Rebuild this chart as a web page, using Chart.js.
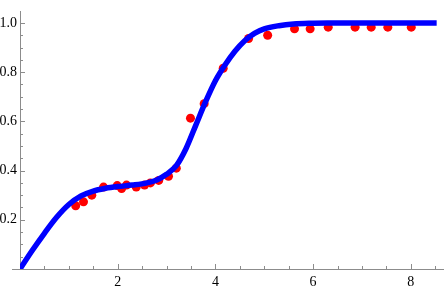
<!DOCTYPE html>
<html>
<head>
<meta charset="utf-8">
<script src="https://cdn.jsdelivr.net/npm/chart.js@4"></script>
<style>
  html, body { margin: 0; padding: 0; background: #fff; }
  #wrap { width: 448px; height: 291px; }
</style>
</head>
<body>
<div id="wrap"><canvas id="fitChart"></canvas></div>
<script>
// fitted curve
const curveX = [0, 0.25, 0.5, 0.75, 1.0, 1.25, 1.5, 1.75, 2.0, 2.3, 2.6, 2.8, 3.0, 3.2, 3.4, 3.6, 3.8, 4.0, 4.2, 4.4, 4.6, 4.8, 5.0, 5.3, 5.6, 6.0, 6.3, 8.53];
const curveY = [0, 0.075, 0.145, 0.21, 0.262, 0.297, 0.317, 0.328, 0.335, 0.341, 0.35, 0.362, 0.385, 0.42, 0.49, 0.585, 0.68, 0.765, 0.83, 0.885, 0.928, 0.958, 0.976, 0.989, 0.996, 0.999, 1.0, 1.0];

// measured points
const dataX = [1.14, 1.30, 1.47, 1.71, 1.99, 2.08, 2.18, 2.38, 2.55, 2.67, 2.84, 3.04, 3.20, 3.49, 3.77, 4.16, 4.68, 5.07, 5.62, 5.94, 6.31, 6.86, 7.19, 7.53, 8.01];
const dataY = [0.257, 0.273, 0.300, 0.333, 0.339, 0.327, 0.341, 0.333, 0.341, 0.350, 0.360, 0.377, 0.410, 0.613, 0.672, 0.816, 0.937, 0.950, 0.976, 0.976, 0.983, 0.983, 0.983, 0.983, 0.983];

const xTicks = [2, 4, 6, 8];
const yTicks = [0.2, 0.4, 0.6, 0.8, 1.0];

const axisGray = '#8c8c8c';
const serif = "'Liberation Serif', 'DejaVu Serif', serif";

// mathematica style ticks pointing into the plot
const innerTicks = {
  id: 'innerTicks',
  beforeDatasetsDraw(chart) {
    const c = chart.ctx, a = chart.chartArea;
    const xs = chart.scales.x, ys = chart.scales.y;
    c.save();
    c.strokeStyle = axisGray;
    c.lineWidth = 1;
    c.beginPath();
    for (let v = 0.5; v <= xs.max; v += 0.5) {
      const px = Math.round(xs.getPixelForValue(v)) + 0.5;
      const len = (Math.abs(v % 2) < 1e-6) ? 5 : 3;
      c.moveTo(px, a.bottom);
      c.lineTo(px, a.bottom - len);
    }
    for (let i = 1; i * 0.05 <= ys.max; i++) {
      const py = Math.round(ys.getPixelForValue(i * 0.05)) + 0.5;
      const len = (i % 4 === 0) ? 5 : 3;
      c.moveTo(a.left, py);
      c.lineTo(a.left + len, py);
    }
    // x axis sticks out a bit to the left
    c.moveTo(a.left - 8, a.bottom + 0.5);
    c.lineTo(a.left, a.bottom + 0.5);
    c.stroke();
    c.restore();
  }
};

const ctx = document.getElementById('fitChart').getContext('2d');

new Chart(ctx, {
  type: 'scatter',
  data: {
    datasets: [{
      label: 'fit',
      data: curveX.map((x, i) => ({ x: x, y: curveY[i] })),
      showLine: true,
      borderColor: 'rgb(0, 0, 255)',
      borderWidth: 5.5,
      borderCapStyle: 'butt',
      cubicInterpolationMode: 'monotone',
      pointRadius: 0,
      fill: false
    }, {
      label: 'data',
      data: dataX.map((x, i) => ({ x: x, y: dataY[i] })),
      showLine: false,
      pointRadius: 4.5,
      pointBackgroundColor: 'rgb(255, 0, 0)',
      pointBorderWidth: 0
    }]
  },
  options: {
    responsive: true,
    maintainAspectRatio: false,
    animation: false,
    layout: { padding: { top: 3, right: 1, left: 0, bottom: 0 } },
    plugins: {
      legend: { display: false },
      tooltip: { enabled: false }
    },
    scales: {
      x: {
        type: 'linear',
        min: 0,
        max: 8.67,
        afterFit: (s) => { s.height = 22; },
        afterBuildTicks: (s) => { s.ticks = xTicks.map(v => ({ value: v })); },
        grid: { display: false, drawTicks: false },
        border: { display: true, color: axisGray, width: 1 },
        ticks: {
          padding: 5,
          color: '#000',
          font: { family: serif, size: 14 },
          callback: (v) => String(v)
        }
      },
      y: {
        type: 'linear',
        min: 0,
        max: 1.047,
        afterFit: (s) => { s.width = 20; },
        afterBuildTicks: (s) => { s.ticks = yTicks.map(v => ({ value: v })); },
        grid: { display: false, drawTicks: false },
        border: { display: true, color: axisGray, width: 1 },
        ticks: {
          padding: 3,
          color: '#000',
          font: { family: serif, size: 14 },
          callback: (v) => v.toFixed(1)
        }
      }
    }
  },
  plugins: [innerTicks]
});
</script>
</body>
</html>
